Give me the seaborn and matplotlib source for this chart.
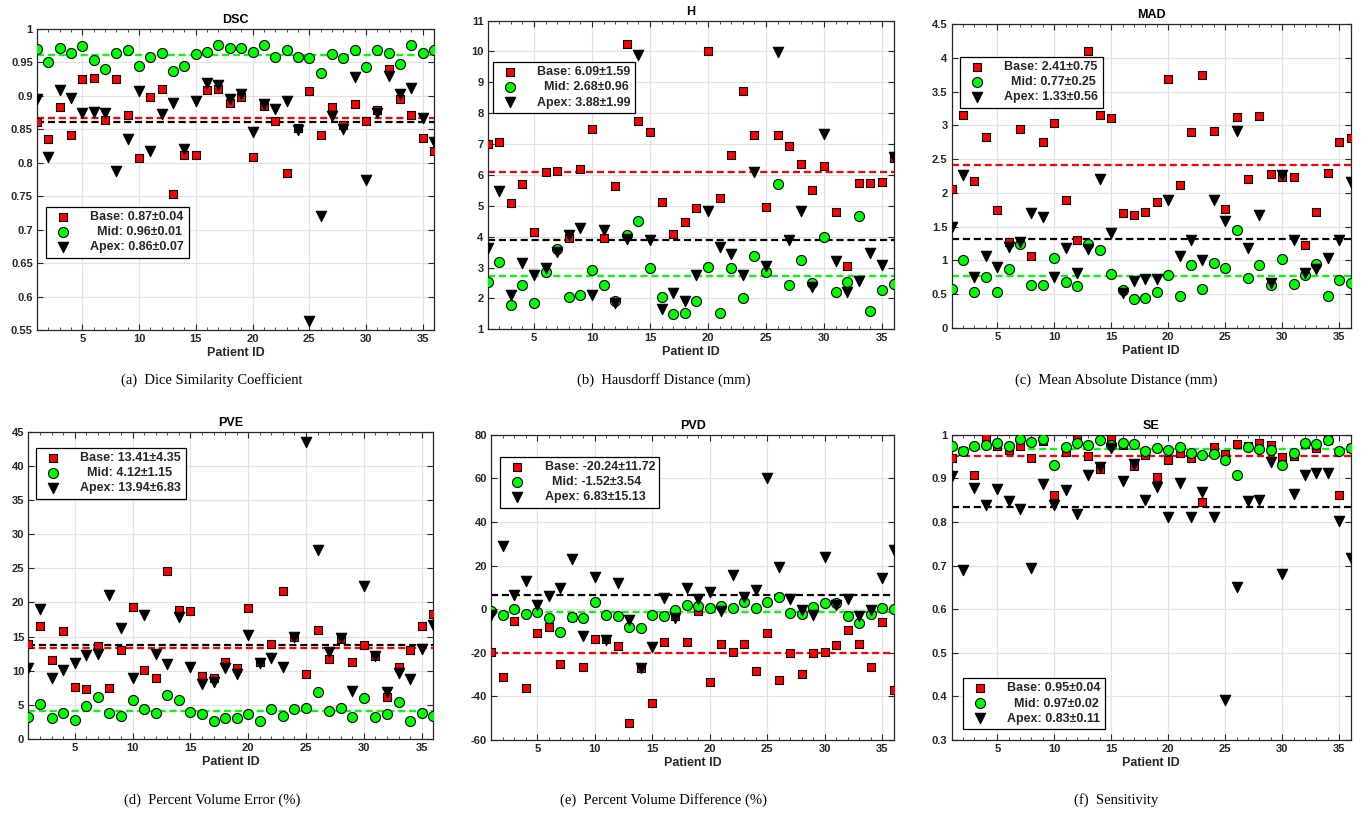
import numpy as np
import matplotlib
matplotlib.use("Agg")
import matplotlib.pyplot as plt
import seaborn as sns
from matplotlib.ticker import FormatStrFormatter


PATIENT_ID = list(range(1, 37))

DSC_BASE = [0.861, 0.835, 0.884, 0.842, 0.925, 0.927, 0.864, 0.926, 0.871, 0.807,
            0.899, 0.911, 0.754, 0.811, 0.812, 0.909, 0.911, 0.889, 0.898, 0.809,
            0.885, 0.863, 0.784, 0.852, 0.907, 0.841, 0.884, 0.857, 0.888, 0.863,
            0.879, 0.940, 0.895, 0.871, 0.837, 0.818]
DSC_MID = [0.9705, 0.951, 0.9715, 0.9645, 0.975, 0.9535, 0.9405, 0.9645, 0.9685, 0.9445,
           0.958, 0.964, 0.9375, 0.944, 0.9625, 0.966, 0.976, 0.971, 0.9715, 0.966,
           0.976, 0.958, 0.968, 0.9575, 0.957, 0.934, 0.962, 0.9565, 0.969, 0.9425,
           0.969, 0.964, 0.9475, 0.976, 0.9635, 0.9685]
DSC_APEX = [0.895, 0.808, 0.909, 0.897, 0.874, 0.8755, 0.874, 0.787, 0.836, 0.908,
            0.817, 0.873, 0.889, 0.820, 0.893, 0.919, 0.9165, 0.8955, 0.903, 0.8455,
            0.888, 0.880, 0.892, 0.849, 0.563, 0.721, 0.8705, 0.851, 0.9285, 0.774,
            0.875, 0.930, 0.9025, 0.9115, 0.867, 0.831]

H_BASE = [7.00, 7.06, 5.10, 5.72, 4.16, 6.08, 6.12, 3.95, 6.19, 7.49,
          3.96, 5.65, 10.23, 7.76, 7.40, 5.13, 4.10, 4.46, 4.94, 10.00,
          5.24, 6.64, 8.73, 7.30, 4.97, 7.30, 6.95, 6.37, 5.51, 6.30,
          4.79, 3.06, 5.75, 5.75, 5.76, 6.55]
H_MID = [2.54, 3.18, 1.77, 2.45, 1.84, 2.84, 3.60, 2.05, 2.12, 2.92,
         2.45, 1.90, 4.06, 4.50, 2.97, 2.05, 1.51, 1.53, 1.93, 3.01,
         1.54, 2.99, 2.00, 3.36, 2.85, 5.70, 2.43, 3.26, 2.50, 3.99,
         2.22, 2.54, 4.67, 1.59, 2.26, 2.48]
H_APEX = [3.62, 5.47, 2.12, 3.16, 2.77, 2.99, 3.51, 4.05, 4.28, 2.12,
          4.20, 1.86, 3.94, 9.88, 3.89, 1.66, 2.17, 1.91, 2.75, 4.84,
          3.65, 3.44, 2.75, 6.11, 3.05, 9.97, 3.89, 4.83, 2.37, 7.33,
          3.22, 2.20, 2.57, 3.46, 3.08, 6.59]

MAD_BASE = [2.06, 3.15, 2.17, 2.83, 1.75, 1.28, 2.94, 1.07, 2.75, 3.04,
            1.90, 1.31, 4.10, 3.16, 3.11, 1.70, 1.68, 1.72, 1.87, 3.68,
            2.12, 2.90, 3.74, 2.92, 1.76, 3.12, 2.21, 3.14, 2.28, 2.23,
            2.23, 1.23, 1.72, 2.29, 2.76, 2.81]
MAD_MID = [0.58, 1.00, 0.53, 0.76, 0.54, 0.88, 1.25, 0.63, 0.64, 1.04,
           0.68, 0.62, 1.25, 1.15, 0.80, 0.57, 0.43, 0.44, 0.54, 0.78,
           0.47, 0.93, 0.58, 0.96, 0.89, 1.45, 0.74, 0.94, 0.63, 1.02,
           0.65, 0.79, 0.95, 0.48, 0.71, 0.66]
MAD_APEX = [1.49, 2.27, 0.76, 1.07, 0.91, 1.20, 1.27, 1.71, 1.64, 0.75,
            1.18, 0.82, 1.17, 2.21, 1.40, 0.52, 0.69, 0.72, 0.73, 1.90,
            1.07, 1.31, 1.00, 1.89, 1.59, 2.92, 1.18, 1.67, 0.67, 2.26,
            1.31, 0.81, 0.88, 1.04, 1.30, 2.16]

PVE_BASE = [13.96, 16.50, 11.57, 15.86, 7.56, 7.37, 13.57, 7.42, 12.98, 19.33,
            10.10, 8.98, 24.65, 18.94, 18.79, 9.22, 8.98, 11.27, 10.35, 19.13,
            11.32, 13.86, 21.72, 14.98, 9.47, 16.01, 11.66, 14.59, 11.32, 13.76,
            12.10, 6.20, 10.59, 12.98, 16.50, 18.30]
PVE_MID = [3.17, 5.08, 3.03, 3.76, 2.73, 4.78, 6.20, 3.76, 3.32, 5.76,
           4.39, 3.81, 6.44, 5.76, 4.00, 3.61, 2.63, 3.07, 3.03, 3.66,
           2.63, 4.39, 3.37, 4.44, 4.49, 6.83, 4.05, 4.59, 3.27, 5.95,
           3.27, 3.71, 5.47, 2.63, 3.86, 3.42]
PVE_APEX = [10.44, 19.03, 8.88, 10.10, 11.08, 12.30, 12.40, 21.08, 16.20, 8.98,
            18.11, 12.44, 10.98, 17.91, 10.59, 8.00, 8.30, 10.44, 9.52, 15.28,
            11.08, 11.81, 10.59, 14.98, 43.44, 27.67, 12.79, 14.74, 7.03, 22.40,
            12.20, 6.93, 9.66, 8.74, 13.18, 16.69]

PVD_BASE = [-19.7, -31.2, -5.3, -36.1, -11.0, -8.2, -25.4, -3.5, -26.4, -13.6,
            -13.9, -16.95, -52.3, -27.2, -43.1, -15.0, -3.0, -15.0, -0.9, -33.3,
            -16.0, -19.6, -15.9, -28.4, -11.0, -32.7, -20.3, -29.7, -20.2, -19.9,
            -16.3, -9.6, -16.2, -26.8, -5.8, -37.2]
PVD_MID = [-0.8, -2.6, -0.15, -2.3, -1.4, -4.1, -10.4, -3.6, -4.1, 3.4,
           -2.9, -3.2, -8.4, -8.8, -2.9, -3.0, -0.3, 2.1, 1.3, 0.5,
           1.3, 0.6, 3.4, 0.6, 3.2, 5.7, -1.8, -2.1, 1.1, 2.7,
           2.7, -3.3, -6.2, -2.1, 0.3, 0.15]
PVD_APEX = [-2.7, 29.0, 6.3, 13.1, 1.9, 5.9, 9.9, 23.0, -12.5, 14.6,
            -14.0, 12.1, -4.9, -26.9, -17.6, 5.0, -3.9, 9.5, 4.6, 8.0,
            -0.8, 15.5, 5.6, 8.7, 60.4, 19.3, 4.6, -0.4, -2.6, 23.8,
            2.0, 4.6, -3.3, -0.6, 14.4, 27.3]

SE_BASE = [0.946, 0.963, 0.908, 0.994, 0.975, 0.966, 0.975, 0.946, 0.987, 0.862,
           0.960, 0.990, 0.951, 0.921, 0.990, 0.976, 0.929, 0.953, 0.903, 0.943,
           0.959, 0.946, 0.846, 0.973, 0.956, 0.979, 0.974, 0.982, 0.977, 0.949,
           0.952, 0.980, 0.969, 0.989, 0.861, 0.969]
SE_MID = [0.975, 0.964, 0.975, 0.978, 0.982, 0.975, 0.991, 0.983, 0.991, 0.930,
          0.973, 0.981, 0.977, 0.988, 0.977, 0.982, 0.980, 0.963, 0.969, 0.966,
          0.972, 0.958, 0.953, 0.957, 0.943, 0.908, 0.972, 0.968, 0.966, 0.932,
          0.958, 0.982, 0.979, 0.989, 0.964, 0.969]
SE_APEX = [0.905, 0.689, 0.878, 0.838, 0.877, 0.848, 0.829, 0.695, 0.887, 0.840,
           0.873, 0.819, 0.908, 0.927, 0.969, 0.894, 0.934, 0.851, 0.881, 0.811,
           0.889, 0.811, 0.868, 0.811, 0.392, 0.650, 0.848, 0.851, 0.939, 0.681,
           0.865, 0.907, 0.913, 0.913, 0.802, 0.717]

DSC_LABELS = ["Base: 0.87±0.04", "  Mid: 0.96±0.01", "Apex: 0.86±0.07"]
H_LABELS = ["Base: 6.09±1.59", "  Mid: 2.68±0.96", "Apex: 3.88±1.99"]
MAD_LABELS = ["Base: 2.41±0.75", "  Mid: 0.77±0.25", "Apex: 1.33±0.56"]
PVE_LABELS = ["Base: 13.41±4.35", "  Mid: 4.12±1.15", "Apex: 13.94±6.83"]
PVD_LABELS = ["Base: -20.24±11.72", "  Mid: -1.52±3.54", "Apex: 6.83±15.13"]
SE_LABELS = ["Base: 0.95±0.04", "  Mid: 0.97±0.02", "Apex: 0.83±0.11"]

CAPTIONS = [
    "(a)  Dice Similarity Coefficient",
    "(b)  Hausdorff Distance (mm)",
    "(c)  Mean Absolute Distance (mm)",
    "(d)  Percent Volume Error (%)",
    "(e)  Percent Volume Difference (%)",
    "(f)  Sensitivity",
]

RED = "#FF0000"
GREEN = "#00FF00"
BLACK = "#000000"
TEXT_GRAY = "#262626"


def draw_panel(ax, title, series, labels, ylim, ystep, legend_loc, legend_anchor):
    styles = [(RED, "s", 34), (GREEN, "o", 52), (BLACK, "v", 56)]

    for values, (color, marker, size) in zip(series, styles):
        ax.axhline(np.mean(values), color=color, linestyle=(0, (3.2, 1.7)),
                   linewidth=1.6, zorder=2)

    for values, label, (color, marker, size) in zip(series, labels, styles):
        sns.scatterplot(x=PATIENT_ID, y=values, color=color, marker=marker, s=size,
                        edgecolor="black", linewidth=0.8, label=label, ax=ax, zorder=3)

    ax.set_xlim(1, 36)
    ax.set_ylim(*ylim)
    ax.set_xticks(range(5, 36, 5))
    ax.set_xticks(PATIENT_ID, minor=True)
    ax.set_yticks(np.arange(ylim[0], ylim[1] + ystep / 2, ystep))
    ax.yaxis.set_major_formatter(FormatStrFormatter("%g"))
    ax.grid(True, which="major", color="#e2e2e2", linewidth=0.9)
    ax.grid(False, which="minor")
    ax.set_axisbelow(True)

    ax.set_title(title, fontsize=9, fontweight="bold", color="black", pad=4)
    ax.set_xlabel("Patient ID", fontsize=9, fontweight="bold", color=TEXT_GRAY, labelpad=2)
    ax.set_ylabel("")

    ax.legend(loc=legend_loc, bbox_to_anchor=legend_anchor, frameon=True, fancybox=False,
              edgecolor="black", framealpha=1, fontsize=9, borderpad=0.35,
              labelspacing=0.25, handletextpad=1.2, borderaxespad=0)
    ax.get_legend().get_frame().set_linewidth(0.9)


if __name__ == "__main__":
    sns.set_theme(style="whitegrid", rc={
        "axes.edgecolor": TEXT_GRAY,
        "axes.linewidth": 0.9,
        "xtick.color": TEXT_GRAY,
        "ytick.color": TEXT_GRAY,
        "xtick.direction": "in",
        "ytick.direction": "in",
        "xtick.top": True,
        "xtick.bottom": True,
        "ytick.left": True,
        "ytick.right": True,
        "xtick.major.size": 4,
        "ytick.major.size": 4,
        "xtick.minor.size": 2.2,
        "xtick.major.width": 0.8,
        "ytick.major.width": 0.8,
        "xtick.minor.width": 0.6,
        "xtick.major.pad": 3,
        "ytick.major.pad": 3,
        "xtick.labelsize": 8,
        "ytick.labelsize": 8,
        "font.weight": "bold",
    })
    plt.rcParams["font.family"] = ["Liberation Sans", "DejaVu Sans"]

    fig = plt.figure(figsize=(13.64, 8.15), dpi=100)

    positions = [
        [0.0271, 0.5951, 0.2911, 0.3693],
        [0.3575, 0.5960, 0.2977, 0.3787],
        [0.6977, 0.5975, 0.2925, 0.3730],
        [0.0208, 0.0933, 0.2969, 0.3771],
        [0.3602, 0.0924, 0.2951, 0.3739],
        [0.6977, 0.0924, 0.2925, 0.3739],
    ]
    axes = [fig.add_axes(p) for p in positions]

    draw_panel(axes[0], "DSC", [DSC_BASE, DSC_MID, DSC_APEX], DSC_LABELS,
               (0.55, 1.0), 0.05, "lower left", (0.023, 0.24))
    draw_panel(axes[1], "H", [H_BASE, H_MID, H_APEX], H_LABELS,
               (1, 11), 1, "upper left", (0.013, 0.866))
    draw_panel(axes[2], "MAD", [MAD_BASE, MAD_MID, MAD_APEX], MAD_LABELS,
               (0, 4.5), 0.5, "upper left", (0.021, 0.892))
    draw_panel(axes[3], "PVE", [PVE_BASE, PVE_MID, PVE_APEX], PVE_LABELS,
               (0, 45), 5, "upper left", (0.019, 0.948))
    draw_panel(axes[4], "PVD", [PVD_BASE, PVD_MID, PVD_APEX], PVD_LABELS,
               (-60, 80), 20, "upper left", (0.022, 0.929))
    draw_panel(axes[5], "SE", [SE_BASE, SE_MID, SE_APEX], SE_LABELS,
               (0.3, 1.0), 0.1, "lower left", (0.028, 0.035))

    caption_x = [212, 664, 1116]
    for i, caption in enumerate(CAPTIONS):
        y = 0.534 if i < 3 else 0.018
        fig.text(caption_x[i % 3] / 1364, y, caption, ha="center", va="center",
                 fontsize=10.5, fontweight="normal", color="black",
                 family=["Liberation Serif", "DejaVu Serif"])

    fig.savefig("out.png", dpi=100)
    plt.close(fig)
